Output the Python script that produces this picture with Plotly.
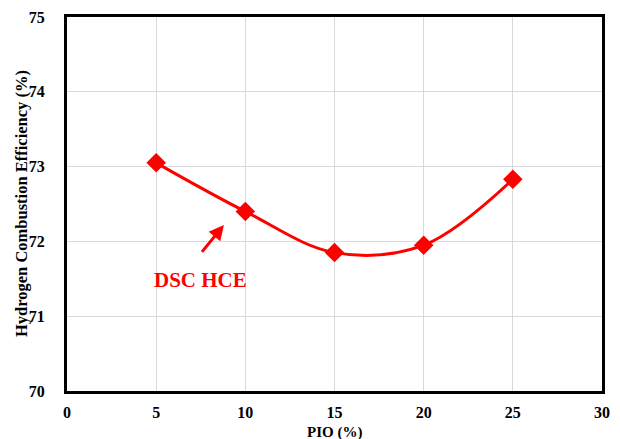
import plotly.graph_objects as go

pio = [5, 10, 15, 20, 25]
hce = [73.05, 72.40, 71.85, 71.95, 72.83]
x_ticks = [0, 5, 10, 15, 20, 25, 30]
y_ticks = [70, 71, 72, 73, 74, 75]

red = "#FF0000"
font_family = "Liberation Serif, Times New Roman, serif"

fig = go.Figure()
fig.add_trace(go.Scatter(
    x=pio, y=hce, mode="lines+markers",
    line=dict(color=red, width=3, shape="spline", smoothing=1.0),
    marker=dict(symbol="diamond", size=15, color=red),
    showlegend=False,
))

fig.add_annotation(
    x=8.8, y=72.22, ax=7.5, ay=71.84, xref="x", yref="y", axref="x", ayref="y",
    text="", showarrow=True, arrowhead=2, arrowsize=1, arrowwidth=3, arrowcolor=red,
)
fig.add_annotation(
    x=7.5, y=71.49, xref="x", yref="y", text="<b>DSC HCE</b>", showarrow=False,
    font=dict(family=font_family, size=21, color=red),
)

# axis titles as annotations
fig.add_annotation(
    x=0.5, y=0, xref="paper", yref="paper", yanchor="middle", yshift=-41,
    text="<b>PIO (%)</b>", showarrow=False,
    font=dict(family=font_family, size=15, color="black"),
)
fig.add_annotation(
    x=0, y=0.5, xref="paper", yref="paper", xanchor="center", xshift=-46,
    text="<b>Hydrogen Combustion Efficiency (%)</b>", textangle=-90, showarrow=False,
    font=dict(family=font_family, size=16.5, color="black"),
)

axis_common = dict(
    showline=True, linecolor="black", linewidth=3, mirror=True,
    showgrid=True, gridcolor="#D9D9D9", gridwidth=1,
    ticks="", zeroline=False, automargin=False,
    tickfont=dict(family=font_family, size=16, color="black"),
)

fig.update_xaxes(
    range=[0, 30], tickvals=x_ticks, ticktext=[f"<b>{v}</b>" for v in x_ticks],
    ticklabelstandoff=5,
    **axis_common,
)
fig.update_yaxes(
    range=[70, 75], tickvals=y_ticks, ticktext=[f"<b>{v}</b>" for v in y_ticks],
    ticklabelstandoff=16,
    **axis_common,
)

fig.update_layout(
    width=612, height=431,
    margin=dict(l=59, r=18, t=9, b=48),
    plot_bgcolor="white", paper_bgcolor="white",
)

fig.write_html("out.html")
